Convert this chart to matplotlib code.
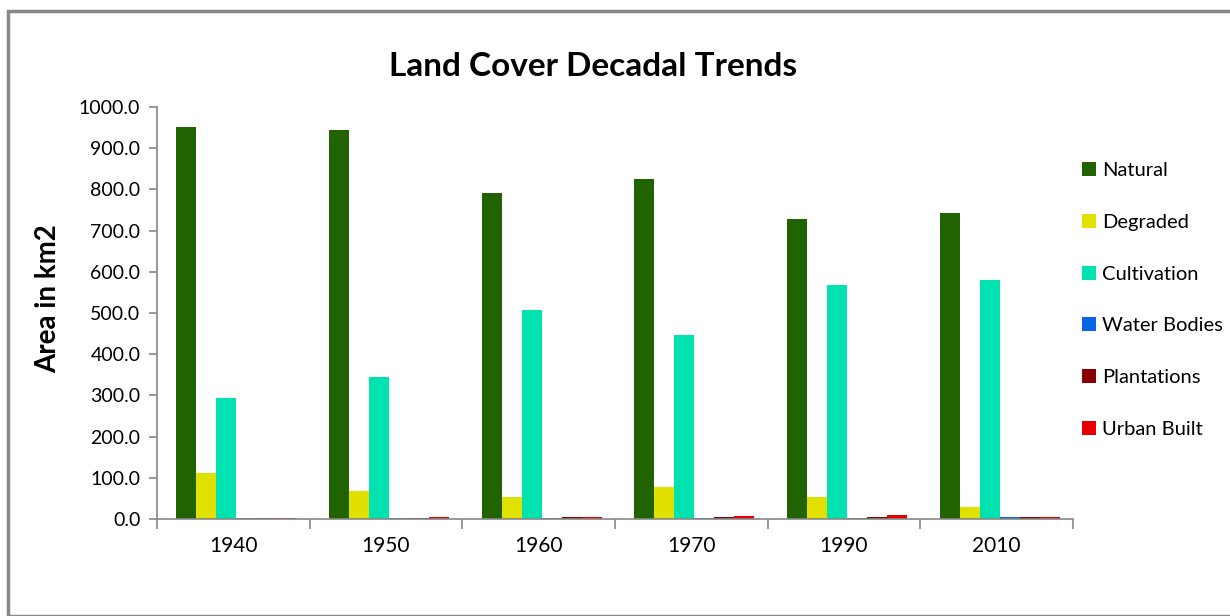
import matplotlib
matplotlib.use('Agg')
import matplotlib.pyplot as plt
import numpy as np
from matplotlib.patches import Rectangle

plt.rcParams['font.family'] = ['Lato', 'DejaVu Sans']

# Data (area in km2)
years = ['1940', '1950', '1960', '1970', '1990', '2010']
classes = ['Natural', 'Degraded', 'Cultivation', 'Water Bodies', 'Plantations', 'Urban Built']
natural = [951, 944, 791, 825, 728, 743]
degraded = [112, 68, 53, 78, 53, 29]
cultivation = [294, 345, 507, 447, 568, 580]
water_bodies = [3, 3, 3, 3, 3, 5]
plantations = [3, 3, 4, 4, 4, 4]
urban_built = [3, 4, 4, 8, 10, 4]

series = [natural, degraded, cultivation, water_bodies, plantations, urban_built]
colors = ['#216300', '#e1e100', '#00e2b0', '#0a64e6', '#8b0000', '#e60000']

fig = plt.figure(figsize=(12.3, 6.16), dpi=100)
# outer chart frame
fig.patches.append(Rectangle((7.5 / 1230, 0), 1.1, 1 - 10.5 / 616, transform=fig.transFigure,
                             fill=False, edgecolor='#888888', linewidth=2.5, zorder=0))

ax = fig.add_axes([157 / 1230, 1 - 519 / 616, (1073 - 157) / 1230, (519 - 107) / 616])

x = np.arange(len(years))
w = 0.131
for i, (vals, name, c) in enumerate(zip(series, classes, colors)):
    ax.bar(x + 0.02 + (i - 2.5) * w, vals, width=w, color=c, label=name, zorder=2)

ax.set_xlim(-0.5, len(years) - 0.5)
ax.set_ylim(0, 1000)
ax.set_yticks(np.arange(0, 1001, 100))
ax.set_yticklabels(['%.1f' % v for v in np.arange(0, 1001, 100)], fontsize=14)
ax.set_xticks(x)
ax.set_xticklabels(years, fontsize=15)
ax.set_xticks(np.arange(-0.5, len(years)), minor=True)
ax.tick_params(axis='x', which='major', length=0, pad=12)
ax.tick_params(axis='x', which='minor', length=7, color='#888888', width=1.2)
ax.tick_params(axis='y', length=6, color='#888888', width=1.2, pad=6)

for s in ['top', 'right']:
    ax.spines[s].set_visible(False)
for s in ['left', 'bottom']:
    ax.spines[s].set_color('#888888')
    ax.spines[s].set_linewidth(1.2)

ax.set_ylabel('Area in km2', fontsize=20, fontweight='bold', va='center')
ax.yaxis.set_label_coords(-0.119, 0.536)
fig.text(593 / 1230, 1 - 67 / 616, 'Land Cover Decadal Trends', fontsize=24,
         fontweight='bold', ha='center', va='center')

leg = fig.legend(loc='center left', bbox_to_anchor=(1082 / 1230, 1 - 300 / 616), frameon=False,
                 fontsize=14.5, handlelength=0.7, handleheight=0.7, handletextpad=0.3,
                 labelspacing=1.72, borderpad=0, borderaxespad=0)

fig.savefig('out.png', dpi=100)
